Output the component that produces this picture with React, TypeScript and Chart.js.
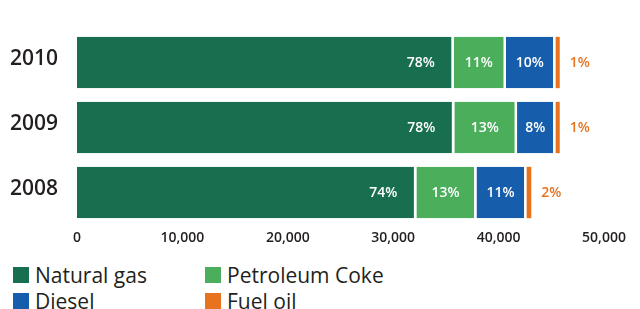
import React, { useEffect, useRef } from "react";
import { Chart, registerables } from "chart.js";

Chart.register(...registerables);

const years = ["2010", "2009", "2008"];
const seriesNames = ["Natural gas", "Petroleum Coke", "Diesel", "Fuel oil"];
const seriesColors = ["#186F50", "#4AAE5B", "#165DAB", "#E8731E"];
const naturalGas = [35750, 35800, 32200];
const petroleumCoke = [4950, 5950, 5700];
const diesel = [4700, 3650, 4750];
const fuelOil = [400, 400, 450];
const naturalGasPct = ["78%", "78%", "74%"];
const petroleumCokePct = ["11%", "13%", "13%"];
const dieselPct = ["10%", "8%", "11%"];
const fuelOilPct = ["1%", "1%", "2%"];
const xTicks = [0, 10000, 20000, 30000, 40000, 50000];

const FONT = "'Open Sans', 'Noto Sans', sans-serif";

const labelPlugin = {
  id: "segLabels",
  afterDatasetsDraw(chart: any) {
    const ctx = chart.ctx;
    const pcts = [naturalGasPct, petroleumCokePct, dieselPct, fuelOilPct];
    ctx.save();
    ctx.font = `600 14px ${FONT}`;
    ctx.textBaseline = "middle";
    chart.data.datasets.forEach((ds: any, di: number) => {
      const meta = chart.getDatasetMeta(di);
      meta.data.forEach((bar: any, i: number) => {
        const text = pcts[di][i];
        const left = bar.base;
        const right = bar.x;
        const y = bar.y + 1;
        if (di === 0) {
          ctx.fillStyle = "#ffffff";
          ctx.textAlign = "right";
          ctx.fillText(text, right - 19, y);
        } else if (di === 3) {
          ctx.fillStyle = seriesColors[3];
          ctx.textAlign = "left";
          ctx.fillText(text, right + 10, y);
        } else {
          ctx.fillStyle = "#ffffff";
          ctx.textAlign = "center";
          ctx.fillText(text, (left + right) / 2 - 1, y);
        }
      });
    });
    ctx.restore();
  },
};

export default function App() {
  const ref = useRef<HTMLCanvasElement | null>(null);

  useEffect(() => {
    document.body.style.margin = "0";
    const values = [naturalGas, petroleumCoke, diesel, fuelOil];
    const chart = new Chart(ref.current as HTMLCanvasElement, {
      type: "bar",
      data: {
        labels: years,
        datasets: seriesNames.map((name, i) => ({
          label: name,
          data: values[i],
          backgroundColor: seriesColors[i],
          borderColor: "#ffffff",
          borderWidth: i === 3 ? 0 : { left: 0, right: 2.5, top: 0, bottom: 0 },
          borderSkipped: false,
          barPercentage: 0.79,
          categoryPercentage: 1,
        })),
      },
      options: {
        indexAxis: "y",
        responsive: false,
        animation: false,
        devicePixelRatio: 1,
        layout: { padding: { top: 30, right: 36, left: 10, bottom: 0 } },
        plugins: {
          legend: { display: false },
          tooltip: { enabled: false },
        },
        scales: {
          x: {
            stacked: true,
            min: 0,
            max: 50000,
            grid: { display: false, drawTicks: false },
            border: { display: false },
            afterBuildTicks: (s: any) => {
              s.ticks = xTicks.map((v) => ({ value: v }));
            },
            afterFit: (s: any) => {
              s.height = 25;
            },
            ticks: {
              padding: 5,
              color: "#231F20",
              font: { family: FONT, size: 14, weight: "600" },
              callback: (v: any) => Number(v).toLocaleString("en-US"),
            },
          },
          y: {
            stacked: true,
            grid: { display: false, drawTicks: false },
            border: { display: false },
            afterFit: (s: any) => {
              s.width = 67;
            },
            ticks: {
              crossAlign: "far",
              padding: 0,
              labelOffset: -3,
              color: "#231F20",
              font: { family: FONT, size: 21, weight: "600" },
            },
          },
        },
      },
      plugins: [labelPlugin],
    } as any);
    return () => chart.destroy();
  }, []);

  return (
    <div style={{ width: 640, height: 309, position: "relative", background: "#fff" }}>
      <canvas ref={ref} width={640} height={250} style={{ display: "block" }} />
      <div
        style={{
          position: "absolute",
          left: 13,
          top: 263,
          display: "grid",
          gridTemplateColumns: "192px 200px",
          rowGap: 2,
          fontFamily: FONT,
          fontSize: 21,
          color: "#231F20",
          lineHeight: "24px",
        }}
      >
        {seriesNames.map((n, i) => (
          <div key={n} style={{ display: "flex", alignItems: "center", height: 24 }}>
            <span
              style={{
                display: "inline-block",
                width: 16,
                height: 16,
                background: seriesColors[i],
                marginRight: 6,
                flexShrink: 0,
              }}
            />
            <span>{n}</span>
          </div>
        ))}
      </div>
    </div>
  );
}
